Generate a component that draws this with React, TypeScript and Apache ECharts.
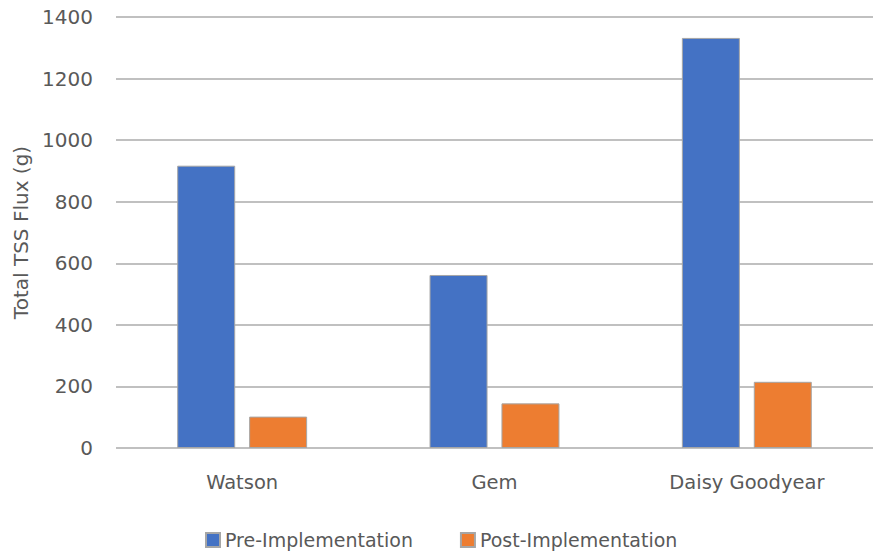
import React, { useEffect, useRef } from "react";
import * as echarts from "echarts";

const sites = ["Watson", "Gem", "Daisy Goodyear"];
const preImplementation = [917, 562, 1332];
const postImplementation = [102, 145, 215];
const seriesNames = ["Pre-Implementation", "Post-Implementation"];
const yTitle = "Total TSS Flux (g)";

const FONT = "'DejaVu Sans', sans-serif";
const TEXT = "#595959";

export default function App() {
  const ref = useRef<HTMLDivElement>(null);

  useEffect(() => {
    if (!ref.current) return;
    const chart = echarts.init(ref.current, null, { renderer: "svg" });
    const barStyle = (color: string) => ({
      color,
      borderColor: "#a6a6a6",
      borderWidth: 1,
    });
    chart.setOption({
      animation: false,
      backgroundColor: "#ffffff",
      textStyle: { fontFamily: FONT },
      // plot area runs slightly past the right edge of the canvas
      grid: { left: 116, width: 765, top: 17, height: 431, containLabel: false },
      legend: {
        data: seriesNames,
        left: 205,
        top: 530,
        padding: 0,
        itemWidth: 14,
        itemHeight: 14,
        itemGap: 47,
        icon: "rect",
        textStyle: { color: TEXT, fontSize: 19, lineHeight: 20, fontFamily: FONT },
      },
      xAxis: {
        type: "category",
        data: sites,
        axisLine: { show: false },
        axisTick: { show: false },
        axisLabel: { color: TEXT, fontSize: 19.5, margin: 24, fontFamily: FONT },
      },
      yAxis: {
        type: "value",
        min: 0,
        max: 1400,
        interval: 200,
        name: yTitle,
        nameLocation: "middle",
        nameRotate: 90,
        nameGap: 81,
        nameTextStyle: { color: TEXT, fontSize: 20, fontFamily: FONT },
        axisLine: { show: false },
        axisTick: { show: false },
        axisLabel: {
          color: TEXT,
          fontSize: 20,
          margin: 23,
          fontFamily: FONT,
          formatter: (v: number) => String(v),
        },
        splitLine: { lineStyle: { color: "#c0c0c0", width: 2 } },
      },
      series: [
        {
          name: seriesNames[0],
          type: "bar",
          data: preImplementation,
          barWidth: 58,
          barGap: "24%",
          itemStyle: barStyle("#4472C4"),
        },
        {
          name: seriesNames[1],
          type: "bar",
          data: postImplementation,
          barWidth: 58,
          itemStyle: barStyle("#ED7D31"),
        },
      ],
    });
    return () => chart.dispose();
  }, []);

  return (
    <div
      ref={ref}
      style={{ position: "fixed", left: 0, top: 0, width: 873, height: 552 }}
    />
  );
}
